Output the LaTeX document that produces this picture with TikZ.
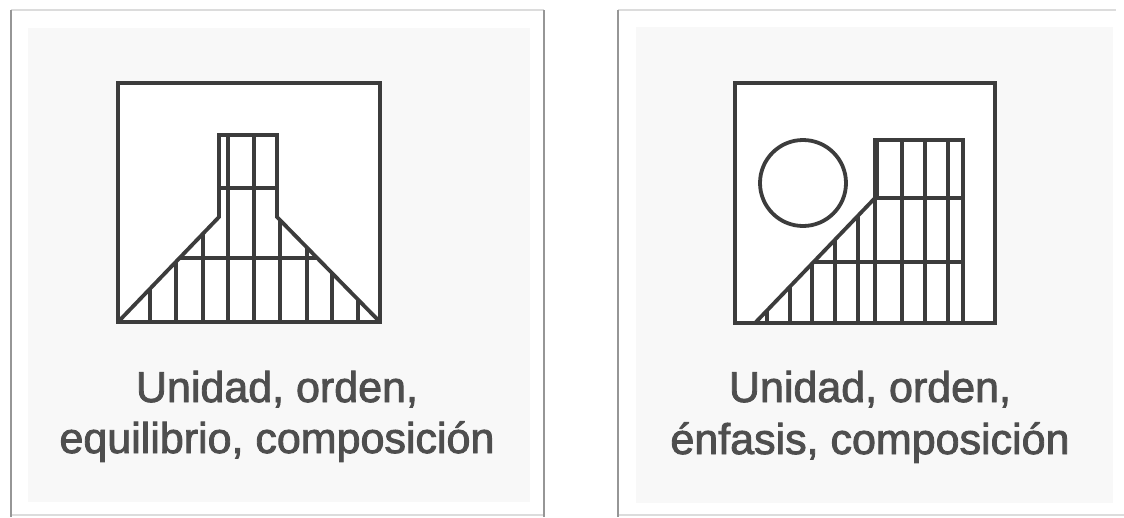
\documentclass[tikz,border=0pt]{standalone}
\usepackage{fontspec}
\newfontfamily\labelfont[FakeBold=2]{Liberation Sans}
\definecolor{lineclr}{RGB}{60,60,60}
\definecolor{textclr}{RGB}{78,78,78}
\definecolor{scanclr}{RGB}{248,248,248}
\definecolor{edgeclr}{RGB}{150,150,150}
\definecolor{edgelight}{RGB}{220,220,220}
\tikzset{
  fig/.style={draw=lineclr, line width=3.8pt, line join=miter},
  thin fig/.style={draw=lineclr, line width=3.4pt},
  label/.style={inner sep=0pt, anchor=base, text=textclr, font=\labelfont\fontsize{43}{50}\selectfont},
  side edge/.style={draw=edgeclr, line width=1.8pt},
  flat edge/.style={draw=edgelight, line width=1.4pt},
  scan/.style={fill=scanclr, draw=none}
}
\begin{document}
\begin{tikzpicture}[x=1pt,y=-1pt]
\useasboundingbox (0,0) rectangle (1124,517);
\fill[white] (0,0) rectangle (1124,517);
% panels
\fill[scan] (28,28) rectangle (530,502);
\fill[scan] (636,27) rectangle (1113,503);
\draw[flat edge] (11,10) -- (544,10);
\draw[flat edge] (11,515) -- (544,515);
\draw[side edge] (11,10) -- (11,517);
\draw[side edge] (544,10) -- (544,517);
\draw[flat edge] (618,10) -- (1116,10);
\draw[flat edge] (618,515) -- (1124,515);
\draw[side edge] (618,10) -- (618,517);

% ---------- left figure ----------
\fill[white] (118,83) rectangle (380,322);
\draw[fig] (118,83) rectangle (380,322);
\draw[fig] (118,322) -- (219,217) -- (219,135) -- (277,135) -- (277,217) -- (380,322);
\draw[thin fig] (219,188) -- (277,188);
\draw[thin fig] (179.6,258) -- (317.2,258);
\draw[fig, line width=4.8pt] (228,135) -- (228,322);
\draw[thin fig] (254,135) -- (254,322);
\foreach \x/\y in {150/288.7, 176/261.7, 203/233.6, 280/220, 307/247.6, 332/273, 358/299.6}
  \draw[thin fig] (\x,\y) -- (\x,322);

% ---------- right figure ----------
\fill[white] (735,83) rectangle (995,323);
\draw[fig] (735,83) rectangle (995,323);
\draw[fig] (803,183) circle (43pt);
\draw[fig] (755,323) -- (875,198) -- (875,140) -- (963,140) -- (963,323);
\draw[fig, line width=5.8pt] (876,140) -- (876,198);
\draw[thin fig] (875,198) -- (875,323);
\draw[thin fig] (875,198) -- (963,198);
\draw[thin fig] (813,262) -- (963,262);
\foreach \x in {902,925,948}
  \draw[thin fig] (\x,140) -- (\x,323);
\foreach \x/\y in {858/215.6, 835/239.3, 812/263, 790/285.8, 767/309.6}
  \draw[thin fig] (\x,\y) -- (\x,323);

% ---------- labels ----------
\node[label] (l1) at (277,402) {Unidad, orden,};
\node[label] (l2) at (277,453) {equilibrio, composición};
\node[label] (r1) at (870,402) {Unidad, orden,};
\node[label] (r2) at (870,454) {énfasis, composición};
\end{tikzpicture}
\end{document}
